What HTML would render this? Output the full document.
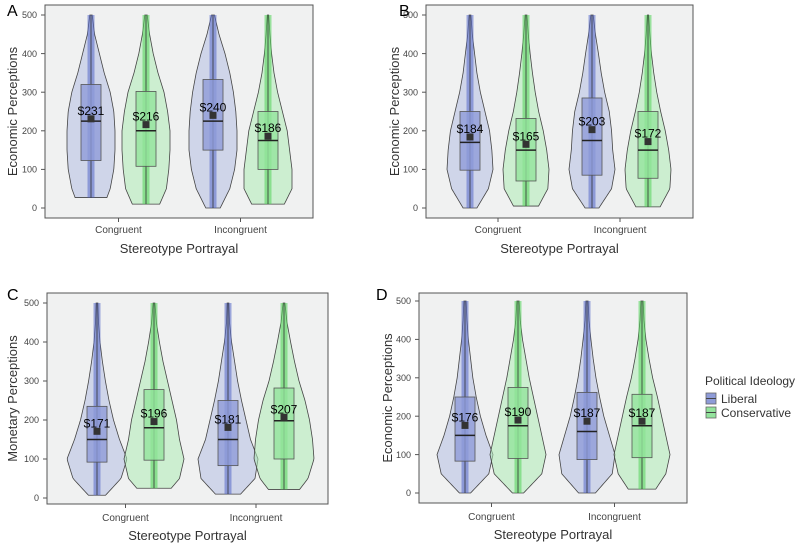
<!DOCTYPE html>
<html><head><meta charset="utf-8"><style>
body{margin:0;background:#fff;font-family:"Liberation Sans",sans-serif}
svg text{font-family:"Liberation Sans",sans-serif}
</style></head><body>
<svg id="chart" width="800" height="543" viewBox="0 0 800 543"></svg>
<script>
// ---- data ----
const categories = ["Congruent","Incongruent"];
const groups = ["Liberal","Conservative"];
const panelLetters = ["A","B","C","D"];
const yTitles = ["Economic Perceptions","Economic Perceptions","Monetary Perceptions","Economic Perceptions"];
const yTicks = [0,100,200,300,400,500];
const densityLevels = [0,50,100,150,200,250,300,350,400,450,500];
// per panel, order: LibCong, ConCong, LibInc, ConInc
const means = [[231,216,240,186],[184,165,203,172],[171,196,181,207],[176,190,187,187]];
const medians = [[225,200,225,175],[170,150,175,150],[150,180,150,198],[150,175,160,175]];
const q1s = [[123,108,150,100],[98,70,85,77],[92,97,83,100],[83,90,87,92]];
const q3s = [[320,302,333,250],[250,232,285,250],[235,278,250,282],[250,275,262,257]];
const mins = [[27,10,0,10],[0,5,0,3],[7,25,10,22],[0,0,0,10]];
const maxs = [[500,500,500,500],[500,500,500,500],[500,500,500,500],[500,500,500,500]];
const densities = [
 [[.5,.8,.95,1,1,.95,.8,.55,.35,.15,.05],[.5,.85,.95,1,1,.9,.75,.5,.3,.15,.05],[.3,.7,.9,1,1,.95,.85,.7,.5,.25,.06],[.6,1,1,.9,.8,.6,.4,.25,.15,.08,.03]],
 [[.3,.8,1,.95,.85,.65,.45,.3,.2,.1,.04],[.5,.95,1,.9,.75,.55,.4,.28,.18,.1,.04],[.3,.85,1,.9,.85,.75,.55,.4,.28,.15,.05],[.5,.95,1,.9,.75,.55,.38,.25,.15,.08,.03]],
 [[.2,.8,1,.75,.55,.4,.28,.18,.1,.05,.03],[.3,.85,1,.85,.75,.6,.45,.3,.18,.08,.03],[.3,.9,1,.75,.6,.45,.32,.22,.12,.05,.03],[.3,.8,1,.95,.85,.7,.5,.35,.22,.1,.03]],
 [[.2,.85,1,.75,.55,.4,.28,.2,.12,.07,.04],[.2,.85,1,.85,.7,.55,.4,.28,.16,.08,.04],[.3,.9,1,.8,.6,.45,.32,.22,.14,.07,.04],[.4,.85,1,.85,.7,.55,.38,.25,.14,.07,.04]]
];
// ---- layout ----
const panels = [
 {x0:45,x1:313,y0:5,y1:218,yz:208,yt:15,hw:24,cx:[91,146,213,268],lx:7,ly:16,tl:230,xt:249,ytb:17},
 {x0:426,x1:693,y0:5,y1:218,yz:208,yt:15,hw:23,cx:[470,526,592,648],lx:399,ly:16,tl:230,xt:249,ytb:399},
 {x0:47,x1:328,y0:293,y1:504,yz:498,yt:303,hw:30,cx:[97,154,228,284],lx:7,ly:300,tl:518,xt:536,ytb:17},
 {x0:419,x1:687,y0:293,y1:503,yz:493,yt:301,hw:28,cx:[465,518,587,642],lx:376,ly:300,tl:517,xt:535,ytb:392}
];
const colV=["rgba(180,190,225,0.55)","rgba(175,235,180,0.55)"];
const colB=["#8e9bd8","#93e39c"];
const colP=["#5667c8","#52d457"];
const NS="http://www.w3.org/2000/svg";
const svg=document.getElementById('chart');
function mk(tag,attrs,parent,txt){const e=document.createElementNS(NS,tag);for(const k in attrs)e.setAttribute(k,attrs[k]);if(txt!==undefined)e.textContent=txt;(parent||svg).appendChild(e);return e;}
panels.forEach((P,pi)=>{
 const g=mk('g',{});
 
 
 const ys=v=>P.yz+(P.yt-P.yz)*v/500;
 const bg=mk('rect',{x:P.x0,y:P.y0,width:P.x1-P.x0,height:P.y1-P.y0,fill:'#f0f1f1',stroke:'#555','stroke-width':1},g);
 
 const lt=mk('text',{x:P.lx,y:P.ly,'font-size':16,fill:'#000'},g,panelLetters[pi]);
 
 yTicks.forEach(t=>{
  mk('line',{x1:P.x0-4,x2:P.x0,y1:ys(t),y2:ys(t),stroke:'#555'},g);
  const tx=mk('text',{x:P.x0-8,y:ys(t)+3.2,'font-size':9,fill:'#444','text-anchor':'end'},g,t);
  
 });
 categories.forEach((c,ci)=>{
  const cx=(P.cx[ci*2]+P.cx[ci*2+1])/2;
  mk('line',{x1:cx,x2:cx,y1:P.y1,y2:P.y1+4,stroke:'#555'},g);
  const tx=mk('text',{x:cx,y:P.tl+3,'font-size':10,fill:'#444','text-anchor':'middle'},g,c);
  
 });
 const xt=mk('text',{x:(P.x0+P.x1)/2,y:P.xt+4,'font-size':13,fill:'#333','text-anchor':'middle'},g,'Stereotype Portrayal');
 
 const ym=(P.y0+P.y1)/2;
 const yt=mk('text',{x:0,y:0,'font-size':13,fill:'#333','text-anchor':'middle',transform:`translate(${P.ytb},${ym}) rotate(-90)`},g,yTitles[pi]);
 
 for(let k=0;k<4;k++){
  const gi=k%2, cx=P.cx[k];
  const mn=mins[pi][k], mx=maxs[pi][k], d=densities[pi][k];
  const dens=v=>{const i=Math.min(9,Math.floor(v/50));const f=(v-i*50)/50;return d[i]*(1-f)+d[i+1]*f;};
  const pts=[];
  for(let v=mn;v<=mx;v+=5){pts.push([v,dens(v)*P.hw]);}
  if(pts[pts.length-1][0]!==mx)pts.push([mx,dens(mx)*P.hw]);
  let path='M'+pts.map(p=>(cx-p[1])+','+ys(p[0])).join(' L');
  path+=' L'+pts.slice().reverse().map(p=>(cx+p[1])+','+ys(p[0])).join(' L')+' Z';
  const vi=mk('path',{d:path,fill:colV[gi],stroke:'#444','stroke-width':0.8},g);
  
  
  const wh=mk('line',{x1:cx,x2:cx,y1:ys(mn),y2:ys(mx),stroke:colP[gi],'stroke-width':7,'stroke-opacity':0.55},g);
  
  mk('line',{x1:cx,x2:cx,y1:ys(mn),y2:ys(mx),stroke:'#333','stroke-width':0.8},g);
  const bx=mk('rect',{x:cx-10,y:ys(q3s[pi][k]),width:20,height:ys(q1s[pi][k])-ys(q3s[pi][k]),fill:colB[gi],'fill-opacity':0.8,stroke:'#555','stroke-width':0.8},g);
  
  mk('line',{x1:cx-10,x2:cx+10,y1:ys(medians[pi][k]),y2:ys(medians[pi][k]),stroke:'#222','stroke-width':1.5},g);
  const mr=mk('rect',{x:cx-3.5,y:ys(means[pi][k])-3.5,width:7,height:7,fill:'#333'},g);
  
  const ml=mk('text',{x:cx,y:ys(means[pi][k])-4,'font-size':12,fill:'#000','text-anchor':'middle'},g,'$'+means[pi][k]);
  
 }
});
// legend
const lg=mk('g',{});


mk('text',{x:705,y:385,'font-size':12,fill:'#333'},lg,'Political Ideology');
groups.forEach((n,i)=>{
 const y=393+i*14;
 const sw=mk('rect',{x:706,y:y,width:10,height:11,fill:colB[i],stroke:'#666','stroke-width':0.8},lg);
 
 mk('line',{x1:706,x2:716,y1:y+5.5,y2:y+5.5,stroke:'#444'},lg);
 const t=mk('text',{x:721,y:y+10,'font-size':12,fill:'#333'},lg,n);
 
});
</script>
</body></html>
